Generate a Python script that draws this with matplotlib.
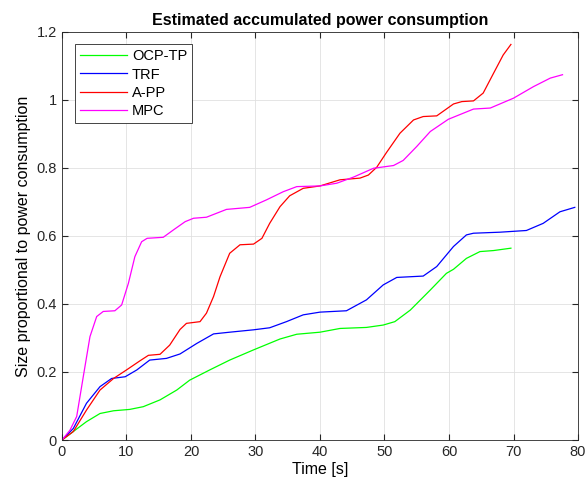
import numpy as np
import matplotlib
matplotlib.use("Agg")
import matplotlib.pyplot as plt
from matplotlib.ticker import FuncFormatter

plt.rcParams['font.family'] = ['Liberation Sans', 'DejaVu Sans']

# values
t_ocp = [0, 1.76, 3.8, 5.9, 8.0, 10.5, 12.6, 15.2, 17.8, 19.8, 22.9, 26.0, 29.7, 33.8, 36.4, 40.0,
         43.1, 47.2, 49.8, 51.6, 54.0, 57.1, 59.6, 60.7, 62.7, 64.8, 66.9, 69.6]
y_ocp = [0, 0.025, 0.054, 0.078, 0.086, 0.090, 0.098, 0.118, 0.147, 0.176, 0.206, 0.235, 0.265, 0.297, 0.311, 0.317,
         0.328, 0.331, 0.338, 0.348, 0.382, 0.441, 0.490, 0.502, 0.534, 0.554, 0.557, 0.564]

t_trf = [0, 1.76, 3.8, 5.9, 7.7, 9.8, 11.6, 13.6, 16.2, 18.3, 20.9, 23.5, 26.0, 29.7, 32.2, 34.8, 37.4, 40.0,
         44.1, 47.2, 49.8, 51.9, 56.0, 58.1, 60.7, 62.7, 63.8, 67.9, 72.0, 74.6, 77.2, 79.5]
y_trf = [0, 0.034, 0.108, 0.157, 0.181, 0.186, 0.206, 0.235, 0.240, 0.253, 0.284, 0.312, 0.317, 0.324, 0.330, 0.348, 0.368, 0.376,
         0.380, 0.412, 0.456, 0.478, 0.482, 0.510, 0.569, 0.603, 0.608, 0.611, 0.616, 0.637, 0.671, 0.684]

t_app = [0, 1.76, 3.8, 5.9, 8.0, 10.0, 12.1, 13.4, 15.2, 16.7, 18.3, 19.3, 21.4, 22.4, 23.5, 24.5, 26.0, 27.6,
         29.7, 31.0, 32.2, 33.8, 35.3, 37.4, 40.0, 43.1, 46.2, 47.5, 48.8, 50.3, 52.4, 54.5, 56.0, 58.1,
         60.7, 62.0, 63.8, 65.3, 66.9, 68.4, 69.6]
y_app = [0, 0.025, 0.088, 0.147, 0.181, 0.206, 0.233, 0.249, 0.252, 0.279, 0.325, 0.343, 0.348, 0.373, 0.422, 0.480, 0.549, 0.574,
         0.576, 0.593, 0.637, 0.686, 0.718, 0.740, 0.747, 0.765, 0.770, 0.779, 0.802, 0.845, 0.902, 0.941, 0.951, 0.953,
         0.988, 0.995, 0.997, 1.020, 1.078, 1.132, 1.163]

t_mpc = [0, 1.24, 2.28, 3.3, 4.34, 5.38, 6.4, 8.2, 9.25, 10.3, 11.3, 12.35, 13.2, 15.7, 17.3, 19.1, 20.4, 22.4,
         25.5, 29.1, 31.7, 34.3, 36.4, 40.0, 42.6, 45.2, 48.3, 51.4, 52.9, 55.0, 57.1, 59.9, 61.2, 63.8, 66.4,
         70.0, 73.1, 75.7, 77.6]
y_mpc = [0, 0.029, 0.069, 0.186, 0.304, 0.363, 0.378, 0.380, 0.397, 0.461, 0.539, 0.583, 0.593, 0.596, 0.618, 0.642, 0.652, 0.655,
         0.678, 0.684, 0.706, 0.730, 0.745, 0.747, 0.755, 0.773, 0.799, 0.807, 0.822, 0.863, 0.907, 0.943, 0.953, 0.973, 0.976,
         1.005, 1.039, 1.064, 1.074]

fig = plt.figure(figsize=(5.88, 4.9), dpi=100)
ax = fig.add_axes([0.1054, 0.102, 0.8776, 0.833])

ax.plot(t_ocp, y_ocp, color=(0, 1, 0), lw=0.9, label='OCP-TP')
ax.plot(t_trf, y_trf, color=(0, 0, 1), lw=0.9, label='TRF')
ax.plot(t_app, y_app, color=(1, 0, 0), lw=0.9, label='A-PP')
ax.plot(t_mpc, y_mpc, color=(1, 0, 1), lw=0.9, label='MPC')

ax.set_xlim(0, 80)
ax.set_ylim(0, 1.2)
ax.set_xticks(np.arange(0, 81, 10))
ax.set_yticks(np.arange(0, 1.21, 0.2))
ax.yaxis.set_major_formatter(FuncFormatter(lambda v, p: f'{v:g}'))
ax.grid(True, color='#e0e0e0', lw=0.6)
ax.set_axisbelow(True)
ax.tick_params(direction='in', length=4, labelsize=10.5, top=True, right=True, colors='#262626')
for s in ax.spines.values():
    s.set_color('#262626')
    s.set_linewidth(0.6)

ax.set_xlabel('Time [s]', fontsize=11.5, labelpad=2)
ax.set_ylabel('Size proportional to power consumption', fontsize=11.5, labelpad=4)
ax.set_title('Estimated accumulated power consumption', fontsize=11.5, fontweight='bold', pad=5)

leg = ax.legend(loc='upper left', bbox_to_anchor=(0.025, 0.97), fontsize=10.5, fancybox=False,
                edgecolor='#262626', framealpha=1, handlelength=3.2, handletextpad=0.35,
                borderpad=0.35, borderaxespad=0, labelspacing=0.3)
leg.get_frame().set_linewidth(0.6)

fig.savefig('out.png', dpi=100)
